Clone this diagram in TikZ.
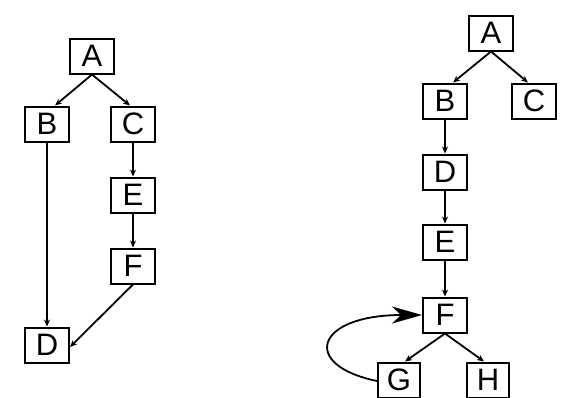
\documentclass[tikz,border=0pt]{standalone}
\usepackage{fontspec}
\setmainfont{Liberation Sans}
\usetikzlibrary{arrows.meta}
\begin{document}
\begin{tikzpicture}[x=1pt,y=-1pt,
  box/.style={draw,line width=2pt,minimum width=44pt,minimum height=35pt,inner sep=0pt,font=\fontsize{31}{31}\selectfont},
  edge/.style={line width=1.8pt,-{Stealth[length=7pt,width=6pt]}},
  backedge/.style={line width=1.8pt,-{Stealth[length=30pt,width=17pt,inset=9pt]}}]
\useasboundingbox[fill=white] (0,0) rectangle (564,397);
% left graph
\node[box] (A1) at (92,56) {A};
\node[box] (B1) at (47,124) {B};
\node[box] (C1) at (133,124) {C};
\node[box] (E1) at (133,195) {E};
\node[box] (F1) at (133,266) {F};
\node[box] (D1) at (47,345) {D};
\draw[edge] (A1.south) -- ([xshift=8pt]B1.north);
\draw[edge] (A1.south) -- ([xshift=-3pt]C1.north);
\draw[edge] (B1.south) -- (D1.north);
\draw[edge] (C1.south) -- (E1.north);
\draw[edge] (E1.south) -- (F1.north);
\draw[edge] (F1.south) -- ([yshift=-2pt]D1.east);
% right graph
\node[box] (A2) at (491,33) {A};
\node[box] (B2) at (445,101) {B};
\node[box] (C2) at (534,101) {C};
\node[box] (D2) at (445,172) {D};
\node[box] (E2) at (445,242) {E};
\node[box] (F2) at (445,315) {F};
\node[box,minimum width=42pt] (G2) at (399,380) {G};
\node[box,minimum width=42pt] (H2) at (488,380) {H};
\draw[edge] (A2.south) -- ([xshift=8pt]B2.north);
\draw[edge] (A2.south) -- ([xshift=-6pt]C2.north);
\draw[edge] (B2.south) -- (D2.north);
\draw[edge] (D2.south) -- (E2.north);
\draw[edge] (E2.south) -- (F2.north);
\draw[edge] (F2.south) -- ([xshift=6pt]G2.north);
\draw[edge] (F2.south) -- ([xshift=-4pt]H2.north);
\draw[backedge] ([yshift=-1pt]G2.west) .. controls (300,365) and (315,315) .. (F2.west);
\end{tikzpicture}
\end{document}
